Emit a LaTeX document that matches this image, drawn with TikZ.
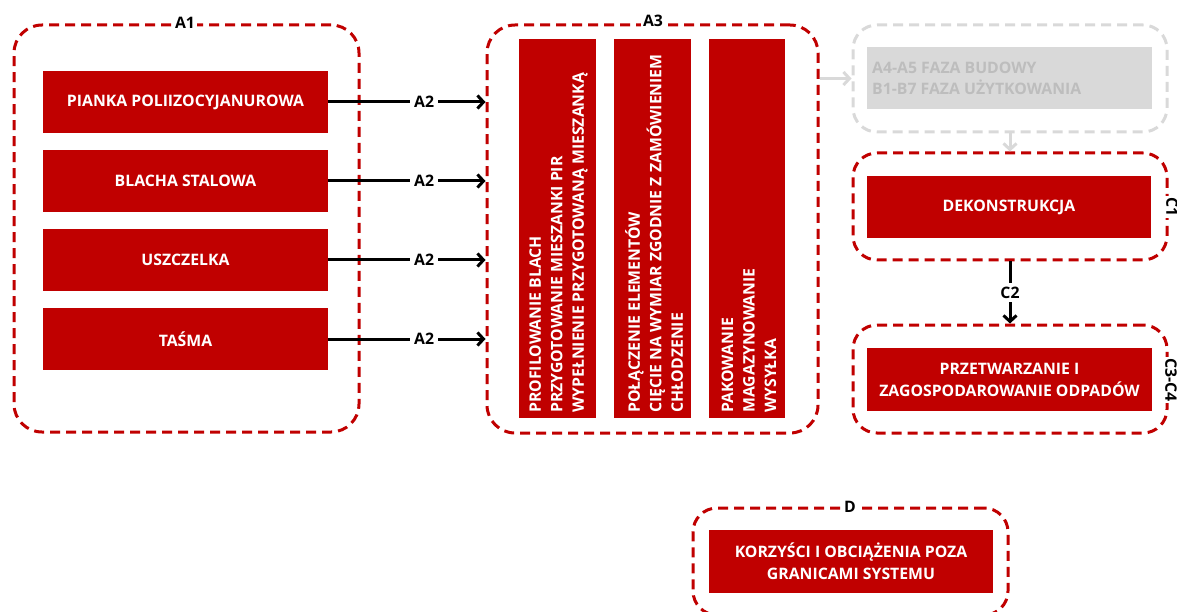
\documentclass[tikz,border=0pt]{standalone}
\usepackage{fontspec}
\setmainfont{Open Sans}
\usetikzlibrary{arrows.meta}
\definecolor{myred}{HTML}{C00000}
\definecolor{lgray}{HTML}{D9D9D9}
\definecolor{tgray}{HTML}{BDBDBD}
\begin{document}
\begin{tikzpicture}[x=1pt,y=-1pt,
  grp/.style={draw=myred,line width=3pt,dash pattern=on 10pt off 6pt,rounded corners=28pt,inner sep=0pt},
  ggrp/.style={draw=lgray,line width=3pt,dash pattern=on 10pt off 6pt,rounded corners=24pt,inner sep=0pt},
  redbox/.style={fill=myred,text=white,font=\bfseries\fontsize{15.8}{22}\selectfont,align=center,inner sep=0pt},
  coltext/.style={text=white,font=\bfseries\fontsize{15.8}{21.5}\selectfont,align=left,rotate=90,anchor=west,inner sep=0pt},
  lbl/.style={fill=white,text=black,font=\bfseries\fontsize{15.8}{18}\selectfont,inner sep=2pt},
  conn/.style={draw=black,line width=3pt,-{Straight Barb[length=6pt,width=13pt]}},
  gconn/.style={draw=lgray,line width=3pt,-{Straight Barb[length=6pt,width=13pt]}}
]
\useasboundingbox (0,0) rectangle (1177,612);
\clip (0,0) rectangle (1177,612);

% group frames
\node[grp,minimum width=345pt,minimum height=407pt] (a1) at (186.5,228.5) {};
\node[grp,minimum width=331pt,minimum height=408pt] (a3) at (652.5,229) {};
\node[ggrp,minimum width=314pt,minimum height=107pt] (gr) at (1010,78.5) {};
\node[grp,rounded corners=24pt,minimum width=314pt,minimum height=107pt] (c1) at (1010,206.5) {};
\node[grp,rounded corners=24pt,minimum width=314pt,minimum height=108pt] (c34) at (1010,379) {};
\node[grp,rounded corners=24pt,minimum width=315pt,minimum height=107pt] (d) at (850.5,561.5) {};

% A1 boxes
\node[redbox,minimum width=285pt,minimum height=62pt] (p1) at (185.5,102) {PIANKA POLIIZOCYJANUROWA};
\node[redbox,minimum width=285pt,minimum height=62pt] (p2) at (185.5,181) {BLACHA STALOWA};
\node[redbox,minimum width=285pt,minimum height=62pt] (p3) at (185.5,260) {USZCZELKA};
\node[redbox,minimum width=285pt,minimum height=62pt] (p4) at (185.5,339) {TAŚMA};

% A3 columns
\node[redbox,minimum width=77pt,minimum height=379pt] (k1) at (557.5,228.5) {};
\node[redbox,minimum width=77pt,minimum height=379pt] (k2) at (652.5,228.5) {};
\node[redbox,minimum width=76pt,minimum height=379pt] (k3) at (747,228.5) {};
\node[coltext] (t1) at (558.5,413) {PROFILOWANIE BLACH\\PRZYGOTOWANIE MIESZANKI PIR\\WYPEŁNIENIE PRZYGOTOWANĄ MIESZANKĄ};
\node[coltext] (t2) at (654,413) {POŁĄCZENIE ELEMENTÓW\\CIĘCIE NA WYMIAR ZGODNIE Z ZAMÓWIENIEM\\CHŁODZENIE};
\node[coltext] (t3) at (749,413) {PAKOWANIE\\MAGAZYNOWANIE\\WYSYŁKA};

% gray box
\node[fill=lgray,minimum width=285pt,minimum height=62pt,inner sep=0pt] (gb) at (1009.5,78) {};
\node[text=tgray,font=\bfseries\fontsize{15.8}{21}\selectfont,align=left,anchor=west,inner sep=0pt] (gt) at (872,78.5) {A4-A5 FAZA BUDOWY\\B1-B7 FAZA UŻYTKOWANIA};

% C / D boxes
\node[redbox,minimum width=284pt,minimum height=62pt] (dek) at (1009,207) {DEKONSTRUKCJA};
\node[redbox,minimum width=285pt,minimum height=63pt] (prz) at (1009.5,379.5) {PRZETWARZANIE I\\ZAGOSPODAROWANIE ODPADÓW};
\node[redbox,minimum width=284pt,minimum height=63pt] (kor) at (851,561.5) {KORZYŚCI I OBCIĄŻENIA POZA\\GRANICAMI SYSTEMU};

% group labels
\node[lbl] (la1) at (185,23) {A1};
\node[lbl] (la3) at (653,21) {A3};
\node[lbl] (ld) at (850,507) {D};
\node[lbl,rotate=-90,inner sep=1pt] (lc1) at (1172,207) {C1};
\node[lbl,rotate=-90,inner sep=1pt] (lc34) at (1171,380) {C3-C4};

% connectors
\foreach \p in {p1,p2,p3,p4}{
  \draw[conn] (\p.east) -- node[lbl,pos=0.61,inner sep=4pt] {A2} (\p.east -| a3.west);
}
\draw[gconn] (gr.west -| a3.east) -- (gr.west);
\draw[gconn] (gr.south) -- (c1.north);
\draw[conn] (c1.south) -- node[lbl,inner sep=4pt] (lc2) {C2} (c34.north);
\end{tikzpicture}
\end{document}
